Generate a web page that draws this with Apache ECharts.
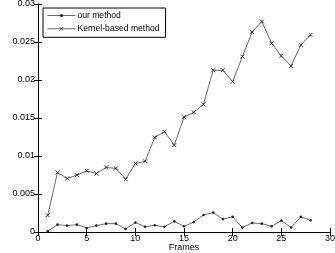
<!DOCTYPE html>
<html><head><meta charset="utf-8">
<script src="https://cdn.jsdelivr.net/npm/echarts@6/dist/echarts.min.js"></script>
<style>html,body{margin:0;padding:0;background:#fff}#c{width:335px;height:253px}</style>
</head><body><div id="c"></div>
<script>
var frames = [1,2,3,4,5,6,7,8,9,10,11,12,13,14,15,16,17,18,19,20,21,22,23,24,25,26,27,28];
var ourMethod = [0.0001,0.00097,0.00084,0.00097,0.00053,0.00084,0.0011,0.0011,0.0004,0.00124,0.0007,0.00088,0.0007,0.0014,0.00075,0.0013,0.00224,0.00255,0.0017,0.002,0.00058,0.00119,0.0011,0.00075,0.0015,0.00058,0.002,0.00154];
var kernelMethod = [0.0022,0.00783,0.00704,0.00748,0.00805,0.0077,0.0085,0.00836,0.00695,0.009,0.0093,0.01245,0.0132,0.01143,0.0151,0.01575,0.0168,0.02128,0.02128,0.01978,0.02308,0.0263,0.0277,0.02484,0.02317,0.02185,0.0246,0.02594];
var yTicks = ['0','0.005','0.01','0.015','0.02','0.025','0.03'];

var font = 'Liberation Sans, Arial, sans-serif';
var xMark = 'path://M0,0L10,10M10,0L0,10';
var axisCommon = {
  axisLine:{show:true,lineStyle:{color:'#000',width:1}},
  axisTick:{show:true,inside:true,length:4,lineStyle:{color:'#000'}},
  splitLine:{show:false}
};
function fmtY(v){ var i = Math.round(v/0.005); return yTicks[i] !== undefined ? yTicks[i] : ''; }
var chart = echarts.init(document.getElementById('c'), null, {renderer:'canvas'});
chart.setOption({
  animation:false,
  backgroundColor:'#fff',
  grid:{left:38,right:5,top:4,bottom:21,containLabel:false,outerBoundsMode:'none'},
  legend:{
    left:43, top:8, orient:'vertical', itemWidth:28, itemHeight:4, itemGap:2.3,
    padding:[2,6,3,4], borderColor:'#000', borderWidth:1, borderRadius:0, backgroundColor:'#fff',
    textStyle:{fontFamily:font,fontSize:8.6,lineHeight:11,color:'#000',padding:[0,0,0,-3]},
    lineStyle:{width:0.8,color:'#444'},
    data:[
      {name:'our method', itemStyle:{color:'#222',borderWidth:0}},
      {name:'Kernel-based method', itemStyle:{color:'none',borderColor:'#222',borderWidth:0.8}}
    ]
  },
  xAxis:[
    Object.assign({type:'value',min:0,max:30,interval:5,position:'bottom',
      name:'Frames',nameLocation:'middle',nameGap:11,nameMoveOverlap:false,
      nameTextStyle:{fontFamily:font,fontSize:9,color:'#000'},
      axisLabel:{fontFamily:font,fontSize:9,color:'#000',margin:2}}, axisCommon),
    Object.assign({type:'value',min:0,max:30,interval:5,position:'top',axisLabel:{show:false}}, axisCommon)
  ],
  yAxis:[
    Object.assign({type:'value',min:0,max:0.03,interval:0.005,position:'left',
      name:'Error',nameLocation:'middle',nameGap:30,nameRotate:90,
      nameTextStyle:{fontFamily:font,fontSize:9,color:'#000'},
      axisLabel:{fontFamily:font,fontSize:9,color:'#000',margin:3,formatter:fmtY}}, axisCommon),
    Object.assign({type:'value',min:0,max:0.03,interval:0.005,position:'right',axisLabel:{show:false}}, axisCommon)
  ],
  series:[
    {name:'our method',type:'line',xAxisIndex:0,yAxisIndex:0,
     data:frames.map(function(f,i){return [f,ourMethod[i]];}),
     symbol:'circle',symbolSize:2.6,showAllSymbol:true,
     lineStyle:{color:'#444',width:0.8},itemStyle:{color:'#222'}},
    {name:'Kernel-based method',type:'line',xAxisIndex:0,yAxisIndex:0,
     data:frames.map(function(f,i){return [f,kernelMethod[i]];}),
     symbol:xMark,symbolSize:4,showAllSymbol:true,
     lineStyle:{color:'#444',width:0.8},itemStyle:{color:'none',borderColor:'#222',borderWidth:0.9}}
  ]
});
</script></body></html>
